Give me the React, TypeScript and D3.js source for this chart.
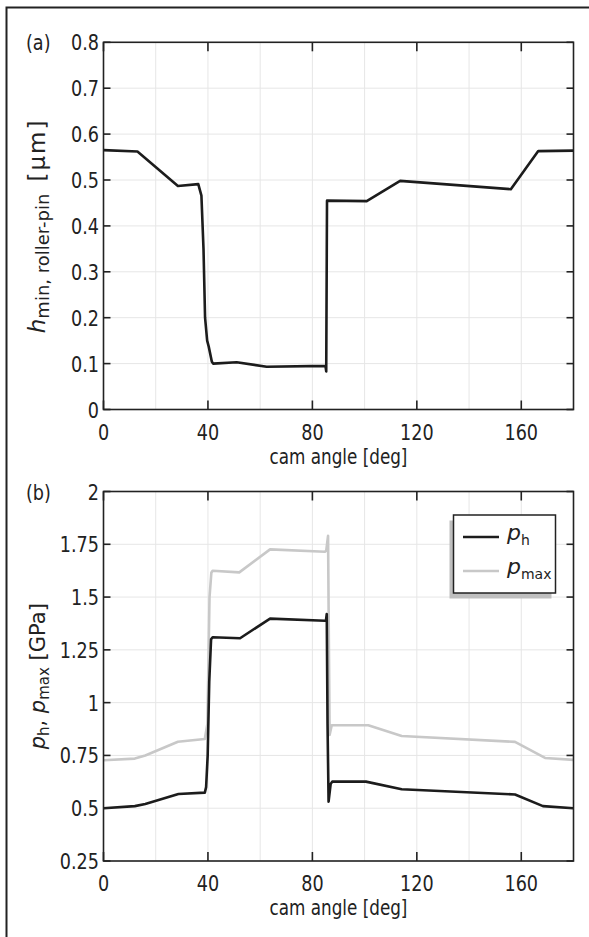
import React from 'react';
import * as d3 from 'd3';

// ---------- data ----------
const angleTicks = [0, 40, 80, 120, 160];
const angleTickLabels = ['0', '40', '80', '120', '160'];
const angleGrid = [20, 40, 60, 80, 100, 120, 140, 160];

const hTicks = [0, 0.1, 0.2, 0.3, 0.4, 0.5, 0.6, 0.7, 0.8];
const hTickLabels = ['0', '0.1', '0.2', '0.3', '0.4', '0.5', '0.6', '0.7', '0.8'];

const pTicks = [0.25, 0.5, 0.75, 1, 1.25, 1.5, 1.75, 2];
const pTickLabels = ['0.25', '0.5', '0.75', '1', '1.25', '1.5', '1.75', '2'];

// h_min, roller-pin [µm] vs cam angle
const hAngle = [0, 13, 28.5, 36.3, 37.5, 38.3, 38.9, 39.7, 40.3, 41.5, 42, 51, 62.5, 85, 85.3, 85.6, 100.8, 113.6, 156, 166.5, 180];
const hValue = [0.565, 0.562, 0.487, 0.491, 0.466, 0.35, 0.2, 0.15, 0.137, 0.104, 0.1, 0.103, 0.093, 0.095, 0.083, 0.455, 0.454, 0.498, 0.48, 0.563, 0.564];

// p_h [GPa]
const phAngle = [0, 12, 16, 28.7, 38.8, 39.3, 39.9, 40.5, 41.2, 41.8, 52.3, 63.8, 84.8, 85.2, 85.5, 85.8, 86.2, 87, 87.6, 100.5, 114.2, 157.6, 168.3, 180];
const phValue = [0.5, 0.51, 0.52, 0.567, 0.574, 0.6, 0.75, 1.1, 1.3, 1.31, 1.305, 1.398, 1.388, 1.39, 1.42, 0.9, 0.531, 0.615, 0.626, 0.626, 0.59, 0.565, 0.51, 0.5];

// p_max [GPa]
const pmaxAngle = [0, 12, 16, 28.5, 38.8, 39.8, 40.6, 41.3, 41.8, 52, 63.8, 84.8, 85.3, 86, 86.3, 86.6, 87.4, 101.4, 114.2, 157.6, 169.1, 180];
const pmaxValue = [0.727, 0.735, 0.75, 0.815, 0.828, 0.9, 1.5, 1.615, 1.625, 1.617, 1.726, 1.715, 1.72, 1.79, 1.3, 0.847, 0.893, 0.893, 0.842, 0.814, 0.738, 0.729];

// ---------- layout ----------
const W = 589;
const H = 937;
const L = 103.5;
const R = 573.5;
const A_TOP = 42.3;
const A_BOT = 409.5;
const B_TOP = 491.5;
const B_BOT = 861;

const FONT = 'DejaVu Sans, Verdana, sans-serif';
const AXIS = '#222';
const GRID = '#e6e6e6';
const BLACK = '#1c1c1c';
const GRAY = '#c8c8c8';
const FS = 22;
const SX = 0.8;

function HText(props: { x: number; y: number; anchor?: string; size?: number; children: any; italic?: boolean }) {
  const { x, y, anchor = 'start', size = FS, children, italic } = props;
  return (
    <text
      transform={`translate(${x},${y}) scale(${SX},1)`}
      textAnchor={anchor}
      fontSize={size}
      fontFamily={FONT}
      fontStyle={italic ? 'italic' : 'normal'}
      fill="#222"
    >
      {children}
    </text>
  );
}

function Panel(props: {
  top: number;
  bottom: number;
  yDomain: [number, number];
  yTicks: number[];
  yLabels: string[];
  tag: string;
  series: { a: number[]; v: number[]; color: string }[];
  ylabel: any;
}) {
  const { top, bottom, yDomain, yTicks, yLabels, tag, series, ylabel } = props;
  const x = d3.scaleLinear().domain([0, 180]).range([L, R]);
  const y = d3.scaleLinear().domain(yDomain).range([bottom, top]);
  const line = d3
    .line<[number, number]>()
    .x((d) => x(d[0]))
    .y((d) => y(d[1]));
  return (
    <g>
      {angleGrid.map((g) => (
        <line key={'gx' + g} x1={x(g)} x2={x(g)} y1={top} y2={bottom} stroke={GRID} strokeWidth={1} />
      ))}
      {yTicks.map((t) => (
        <line key={'gy' + t} x1={L} x2={R} y1={y(t)} y2={y(t)} stroke={GRID} strokeWidth={1} />
      ))}
      {series.map((s, i) => (
        <path
          key={'s' + i}
          d={line(s.a.map((a, k) => [a, s.v[k]]) as [number, number][]) || ''}
          fill="none"
          stroke={s.color}
          strokeWidth={2.6}
          strokeLinejoin="round"
        />
      ))}
      <rect x={L} y={top} width={R - L} height={bottom - top} fill="none" stroke={AXIS} strokeWidth={1.6} />
      {angleTicks.map((t) => (
        <g key={'xt' + t}>
          <line x1={x(t)} x2={x(t)} y1={bottom} y2={bottom - 9} stroke={AXIS} strokeWidth={1.6} />
          <line x1={x(t)} x2={x(t)} y1={top} y2={top + 9} stroke={AXIS} strokeWidth={1.6} />
        </g>
      ))}
      {yTicks.map((t) => (
        <g key={'yt' + t}>
          <line x1={L} x2={L + 7} y1={y(t)} y2={y(t)} stroke={AXIS} strokeWidth={1.6} />
          <line x1={R} x2={R - 7} y1={y(t)} y2={y(t)} stroke={AXIS} strokeWidth={1.6} />
        </g>
      ))}
      {angleTicks.map((t, i) => (
        <HText key={'xl' + t} x={x(t)} y={bottom + 30} anchor="middle">
          {angleTickLabels[i]}
        </HText>
      ))}
      {yTicks.map((t, i) => (
        <HText key={'yl' + t} x={99} y={y(t) + 8} anchor="end">
          {yLabels[i]}
        </HText>
      ))}
      <HText x={(L + R) / 2} y={bottom + 54} anchor="middle" size={21}>
        cam angle [deg]
      </HText>
      <HText x={26} y={top + 8} anchor="start">
        {tag}
      </HText>
      <g transform={`translate(45,${(top + bottom) / 2}) rotate(-90)`}>{ylabel}</g>
    </g>
  );
}

export default function App() {
  return (
    <div style={{ position: 'absolute', left: 0, top: 0 }}>
      <svg width={W} height={H} viewBox={`0 0 ${W} ${H}`} style={{ display: 'block', background: '#fff' }}>
        <rect x={0} y={0} width={W} height={H} fill="#fff" />
        <rect x={6.5} y={7.5} width={800} height={1200} fill="none" stroke={AXIS} strokeWidth={2} />
        <Panel
          top={A_TOP}
          bottom={A_BOT}
          yDomain={[0, 0.8]}
          yTicks={hTicks}
          yLabels={hTickLabels}
          tag="(a)"
          series={[{ a: hAngle, v: hValue, color: BLACK }]}
          ylabel={
            <text textAnchor="middle" fontFamily={FONT} fontSize={23} fill="#222">
              <tspan fontStyle="italic">h</tspan>
              <tspan fontSize={18} dy={4}>min, roller-pin</tspan>
              <tspan dy={-4} dx={12} letterSpacing={2}>[μm]</tspan>
            </text>
          }
        />
        <Panel
          top={B_TOP}
          bottom={B_BOT}
          yDomain={[0.25, 2]}
          yTicks={pTicks}
          yLabels={pTickLabels}
          tag="(b)"
          series={[
            { a: pmaxAngle, v: pmaxValue, color: GRAY },
            { a: phAngle, v: phValue, color: BLACK },
          ]}
          ylabel={
            <text textAnchor="middle" fontFamily={FONT} fontSize={21} fill="#222">
              <tspan fontStyle="italic">p</tspan>
              <tspan fontSize={15} dy={4}>h</tspan>
              <tspan dy={-4}>, </tspan>
              <tspan fontStyle="italic">p</tspan>
              <tspan fontSize={15} dy={4}>max</tspan>
              <tspan dy={-4}> [GPa]</tspan>
            </text>
          }
        />
        <rect x={449.5} y={520.5} width={102} height={78} fill="#bfbfbf" />
        <rect x={453.5} y={515} width={102} height={78} fill="#fff" stroke={AXIS} strokeWidth={1.5} />
        <line x1={463} x2={499} y1={537} y2={537} stroke={BLACK} strokeWidth={2.6} />
        <line x1={463} x2={499} y1={571} y2={571} stroke={GRAY} strokeWidth={2.6} />
        <text x={507} y={540} fontFamily={FONT} fontSize={22} fill="#222">
          <tspan fontStyle="italic">p</tspan>
          <tspan fontSize={14} dy={5}>h</tspan>
        </text>
        <text x={507} y={574} fontFamily={FONT} fontSize={22} fill="#222">
          <tspan fontStyle="italic">p</tspan>
          <tspan fontSize={14} dy={5}>max</tspan>
        </text>
      </svg>
    </div>
  );
}
